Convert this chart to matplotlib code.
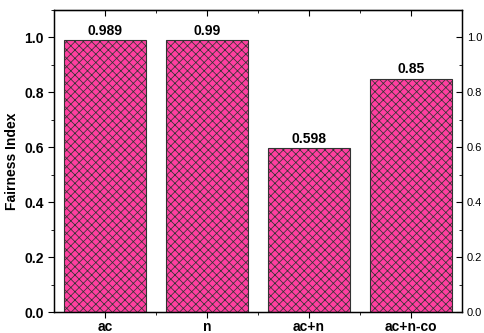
import matplotlib
matplotlib.use("Agg")
import matplotlib.pyplot as plt
from matplotlib.ticker import MultipleLocator

categories = ["ac", "n", "ac+n", "ac+n-co"]
values = [0.989, 0.99, 0.598, 0.85]
labels = ["0.989", "0.99", "0.598", "0.85"]

plt.rcParams['font.family'] = ['Liberation Sans', 'DejaVu Sans']
plt.rcParams['hatch.color'] = '#5a1440'
plt.rcParams['hatch.linewidth'] = 0.55

fig = plt.figure(figsize=(4.84, 3.33), dpi=100)
ax = fig.add_axes([54/484, 21/333, 408/484, 302/333])
x = range(len(categories))
bars = ax.bar(x, values, width=0.8, color='#ff3fa0', edgecolor='#333333',
              linewidth=0.8, hatch='xxxx')
for xi, v, lab in zip(x, values, labels):
    ax.text(xi, v + 0.008, lab, ha='center', va='bottom', fontsize=10, fontweight='bold')

ax.set_xlim(-0.5, 3.5)
ax.set_ylim(0, 1.1)
ax.set_xticks(list(x))
ax.set_xticks([i + 0.5 for i in range(len(categories) - 1)], minor=True)
ax.set_xticklabels(categories, fontsize=10, fontweight='bold')
ax.yaxis.set_major_locator(MultipleLocator(0.2))
ax.yaxis.set_minor_locator(MultipleLocator(0.1))
ax.set_yticklabels([f"{t:.1f}" for t in ax.get_yticks()], fontsize=10, fontweight='bold')
ax.set_ylabel("Fairness Index", fontsize=10, fontweight='bold', labelpad=4)
ax.tick_params(axis='x', which='major', direction='out', length=4, pad=2)
ax.tick_params(axis='x', which='minor', direction='out', length=2)
ax.tick_params(axis='y', which='major', direction='out', length=4)
ax.tick_params(axis='y', which='minor', direction='out', length=2)
for s in ax.spines.values():
    s.set_linewidth(1.0)

# top axis ticks pointing inward
axt = ax.secondary_xaxis('top')
axt.set_xticks(list(x))
axt.set_xticks([i + 0.5 for i in range(len(categories) - 1)], minor=True)
axt.tick_params(axis='x', which='major', direction='in', length=4, labeltop=False)
axt.tick_params(axis='x', which='minor', direction='in', length=2)
axt.set_xticklabels([])

ax2 = ax.twinx()
ax2.set_ylim(0, 1.1)
ax2.yaxis.set_major_locator(MultipleLocator(0.2))
ax2.yaxis.set_minor_locator(MultipleLocator(0.1))
ax2.set_yticklabels([f"{t:.1f}" for t in ax2.get_yticks()], fontsize=8)
ax2.tick_params(axis='y', which='major', direction='in', length=4, pad=3.5)
ax2.tick_params(axis='y', which='minor', direction='in', length=2)

fig.savefig("out.png", dpi=100)
